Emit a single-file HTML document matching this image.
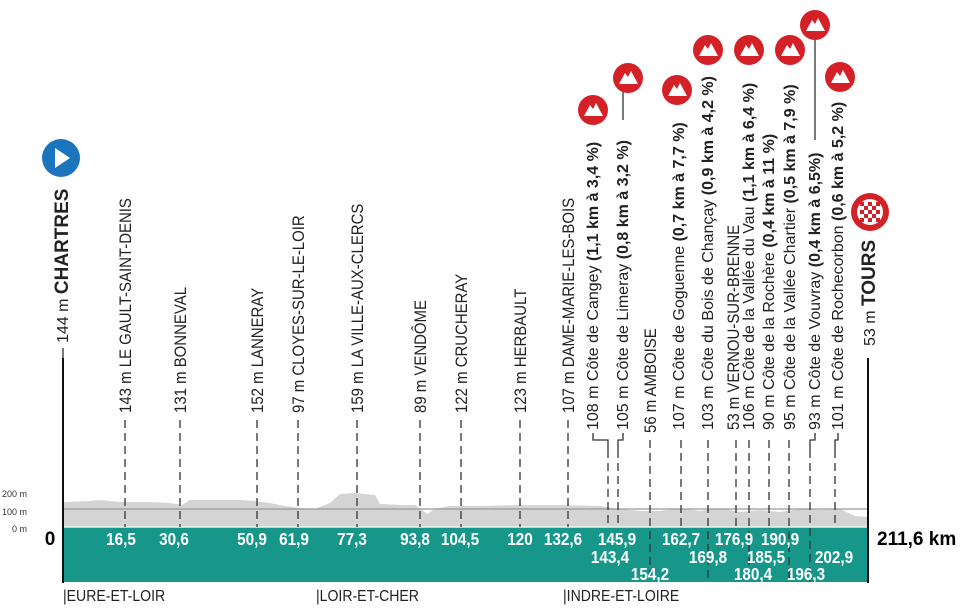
<!DOCTYPE html>
<html><head><meta charset="utf-8"><style>
html,body{margin:0;padding:0;background:#fff;}
svg{display:block;}
.l{font-family:"Liberation Sans Narrow","Liberation Sans",sans-serif;font-size:16px;fill:#222;}
.b{font-weight:bold;}
.km{font-family:"Liberation Sans",sans-serif;font-size:18px;font-weight:bold;fill:#fff;text-anchor:middle;}
.d{stroke:#333;stroke-width:1.3;stroke-dasharray:8,5;}
.s{stroke:#333;stroke-width:1.3;fill:none;}
</style></head><body>
<svg width="960" height="616" viewBox="0 0 960 616" xmlns="http://www.w3.org/2000/svg">
<defs>
<g id="mt"><circle r="15" fill="#d42127"/><path d="M-9,6 L-3,-5 L0,-1 L3,-7 L10,6 Z" fill="#fff"/></g>
</defs>
<polygon fill="#d4d4d4" points="63,527 63,502 90,501 100,500 120,502 150,502 170,503 182,505 190,500 210,500 240,500 255,501 270,503 285,506 300,508 315,509 330,503 340,494 355,493 375,495 380,504 400,505 415,505 420,509 428,514 434,509 450,506 480,506 520,505 560,505 600,506 620,509 640,511 660,511 680,508 700,511 720,508 740,512 760,510 780,512 800,509 820,510 840,509 855,516 868,517 868,527"/>
<line x1="63" y1="509" x2="868" y2="509" stroke="#999" stroke-width="1.2"/>
<text x="2" y="497" font-family="Liberation Sans,sans-serif" font-size="9" fill="#333">200 m</text>
<text x="2" y="515" font-family="Liberation Sans,sans-serif" font-size="9" fill="#333">100 m</text>
<text x="12" y="532" font-family="Liberation Sans,sans-serif" font-size="9" fill="#333">0 m</text>
<rect x="63" y="527" width="805" height="55" fill="#16978a"/>
<line x1="63" y1="527" x2="868" y2="527" stroke="#e8f4f2" stroke-width="1.5"/>
<line x1="63" y1="358" x2="63" y2="583" stroke="#111" stroke-width="2"/>
<line x1="868" y1="358" x2="868" y2="583" stroke="#111" stroke-width="2"/>
<g class="d">
<line x1="125" y1="420" x2="125" y2="527"/>
<line x1="180" y1="420" x2="180" y2="527"/>
<line x1="257" y1="420" x2="257" y2="527"/>
<line x1="298" y1="420" x2="298" y2="527"/>
<line x1="357" y1="420" x2="357" y2="527"/>
<line x1="420" y1="420" x2="420" y2="527"/>
<line x1="461" y1="420" x2="461" y2="527"/>
<line x1="520" y1="420" x2="520" y2="527"/>
<line x1="568" y1="420" x2="568" y2="527"/>
<line x1="608" y1="450" x2="608" y2="527"/>
<line x1="618" y1="450" x2="618" y2="527"/>
<line x1="650" y1="440" x2="650" y2="582"/>
<line x1="681" y1="440" x2="681" y2="527"/>
<line x1="708" y1="440" x2="708" y2="582"/>
<line x1="736" y1="440" x2="736" y2="527"/>
<line x1="749" y1="440" x2="749" y2="582"/>
<line x1="769" y1="440" x2="769" y2="527"/>
<line x1="789" y1="440" x2="789" y2="582"/>
<line x1="810" y1="450" x2="810" y2="582"/>
<line x1="835" y1="450" x2="835" y2="527"/>
</g>
<g class="s">
<polyline points="608,450 608,440 593,440 593,433"/>
<polyline points="618,450 618,440 623,440 623,433"/>
<polyline points="810,450 810,440 815,440 815,433"/>
<polyline points="835,450 835,440 838,440 838,433"/>
<line x1="63" y1="358" x2="63" y2="348"/>
<line x1="623" y1="120" x2="623" y2="92"/>
<line x1="815" y1="140" x2="815" y2="38"/>
</g>
<g class="l">
<text transform="translate(68,343) rotate(-90)">144 m <tspan class="b" font-family="Liberation Sans,sans-serif" font-size="19">CHARTRES</tspan></text>
<g font-size="17">
<text transform="translate(131,413) rotate(-90) scale(0.88,1)">143 m LE GAULT-SAINT-DENIS</text>
<text transform="translate(186,413) rotate(-90) scale(0.88,1)">131 m BONNEVAL</text>
<text transform="translate(263,413) rotate(-90) scale(0.88,1)">152 m LANNERAY</text>
<text transform="translate(304,413) rotate(-90) scale(0.88,1)">97 m CLOYES-SUR-LE-LOIR</text>
<text transform="translate(363,413) rotate(-90) scale(0.88,1)">159 m LA VILLE-AUX-CLERCS</text>
<text transform="translate(426,413) rotate(-90) scale(0.88,1)">89 m VENDÔME</text>
<text transform="translate(467,413) rotate(-90) scale(0.88,1)">122 m CRUCHERAY</text>
<text transform="translate(526,413) rotate(-90) scale(0.88,1)">123 m HERBAULT</text>
<text transform="translate(574,413) rotate(-90) scale(0.88,1)">107 m DAME-MARIE-LES-BOIS</text>
<text transform="translate(656,433) rotate(-90) scale(0.88,1)">56 m AMBOISE</text>
<text transform="translate(739,430) rotate(-90) scale(0.88,1)">53 m VERNOU-SUR-BRENNE</text>
</g>
<text transform="translate(598,430) rotate(-90)">108 m Côte de Cangey <tspan class="b">(1,1 km à 3,4 %)</tspan></text>
<text transform="translate(628,430) rotate(-90)">105 m Côte de Limeray <tspan class="b">(0,8 km à 3,2 %)</tspan></text>
<text transform="translate(684,430) rotate(-90)">107 m Côte de Goguenne <tspan class="b">(0,7 km à 7,7 %)</tspan></text>
<text transform="translate(713,430) rotate(-90)">103 m Côte du Bois de Chançay <tspan class="b">(0,9 km à 4,2 %)</tspan></text>
<text transform="translate(754,430) rotate(-90)">106 m Côte de la Vallée du Vau <tspan class="b">(1,1 km à 6,4 %)</tspan></text>
<text transform="translate(774,430) rotate(-90)">90 m Côte de la Rochère <tspan class="b">(0,4 km à 11 %)</tspan></text>
<text transform="translate(795,430) rotate(-90)">95 m Côte de la Vallée Chartier <tspan class="b">(0,5 km à 7,9 %)</tspan></text>
<text transform="translate(820,430) rotate(-90)">93 m Côte de Vouvray <tspan class="b">(0,4 km à 6,5%)</tspan></text>
<text transform="translate(843,430) rotate(-90)">101 m Côte de Rochecorbon <tspan class="b">(0,6 km à 5,2 %)</tspan></text>
<text transform="translate(875,346) rotate(-90)">53 m <tspan class="b" font-family="Liberation Sans,sans-serif" font-size="19">TOURS</tspan></text>
</g>
<circle cx="61" cy="158" r="19" fill="#1c75bc"/>
<path d="M55,148 L70,158 L55,168 Z" fill="#fff"/>
<use href="#mt" x="593" y="110"/>
<use href="#mt" x="628" y="78"/>
<use href="#mt" x="677" y="90"/>
<use href="#mt" x="708" y="50"/>
<use href="#mt" x="749" y="50"/>
<use href="#mt" x="790" y="50"/>
<use href="#mt" x="815" y="25"/>
<use href="#mt" x="840" y="77"/>
<g transform="translate(870,212)">
<circle r="19" fill="#d42127"/><circle r="13" fill="#fff"/>
<g fill="#d42127">
<rect x="-10" y="-10" width="4" height="4"/><rect x="-2" y="-10" width="4" height="4"/><rect x="6" y="-10" width="4" height="4"/>
<rect x="-6" y="-6" width="4" height="4"/><rect x="2" y="-6" width="4" height="4"/>
<rect x="-10" y="-2" width="4" height="4"/><rect x="-2" y="-2" width="4" height="4"/><rect x="6" y="-2" width="4" height="4"/>
<rect x="-6" y="2" width="4" height="4"/><rect x="2" y="2" width="4" height="4"/>
<rect x="-10" y="6" width="4" height="4"/><rect x="-2" y="6" width="4" height="4"/><rect x="6" y="6" width="4" height="4"/>
</g></g>
<g class="km">
<text transform="translate(121,545) scale(0.85,1)">16,5</text>
<text transform="translate(174,545) scale(0.85,1)">30,6</text>
<text transform="translate(252,545) scale(0.85,1)">50,9</text>
<text transform="translate(294,545) scale(0.85,1)">61,9</text>
<text transform="translate(352,545) scale(0.85,1)">77,3</text>
<text transform="translate(415,545) scale(0.85,1)">93,8</text>
<text transform="translate(460,545) scale(0.85,1)">104,5</text>
<text transform="translate(520,545) scale(0.85,1)">120</text>
<text transform="translate(563,545) scale(0.85,1)">132,6</text>
<text transform="translate(617,545) scale(0.85,1)">145,9</text>
<text transform="translate(681,545) scale(0.85,1)">162,7</text>
<text transform="translate(734,545) scale(0.85,1)">176,9</text>
<text transform="translate(780,545) scale(0.85,1)">190,9</text>
<text transform="translate(610,563) scale(0.85,1)">143,4</text>
<text transform="translate(708,563) scale(0.85,1)">169,8</text>
<text transform="translate(766,563) scale(0.85,1)">185,5</text>
<text transform="translate(834,563) scale(0.85,1)">202,9</text>
<text transform="translate(650,580) scale(0.85,1)">154,2</text>
<text transform="translate(753,580) scale(0.85,1)">180,4</text>
<text transform="translate(806,580) scale(0.85,1)">196,3</text>
</g>
<text x="50" y="545" font-family="Liberation Sans,sans-serif" font-size="19" font-weight="bold" text-anchor="middle">0</text>
<text x="877" y="545" font-family="Liberation Sans,sans-serif" font-size="19" font-weight="bold">211,6 km</text>
<g class="l" font-size="17">
<text transform="translate(63,601) scale(0.88,1)">|EURE-ET-LOIR</text>
<text transform="translate(316,601) scale(0.88,1)">|LOIR-ET-CHER</text>
<text transform="translate(563,601) scale(0.88,1)">|INDRE-ET-LOIRE</text>
</g>
</svg>
</body></html>
